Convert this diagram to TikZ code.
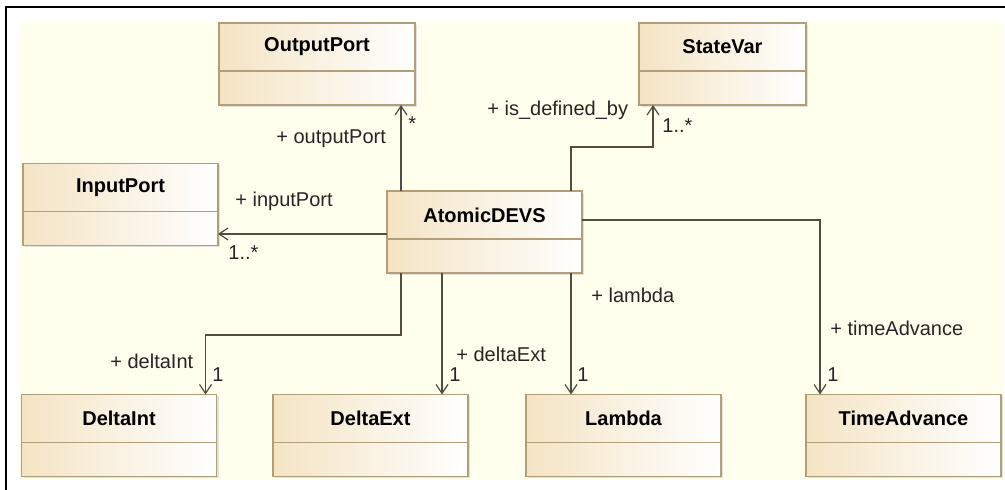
\documentclass[tikz,border=0pt]{standalone}
\usepackage{fontspec}
\setmainfont{Liberation Sans}
\usetikzlibrary{arrows.meta,shadows}

\definecolor{canvas}{RGB}{255,255,238}
\definecolor{classfill}{RGB}{244,228,196}
\definecolor{classline}{RGB}{178,158,120}
\definecolor{assocline}{RGB}{84,76,66}

\begin{document}
\begin{tikzpicture}[x=0.5pt, y=-0.5pt, >={Straight Barb[length=4.5pt,width=6pt]},
    every node/.style={font=\fontsize{10}{12}\selectfont},
    umlclass/.style={draw=classline, line width=0.7pt, left color=classfill, right color=white,
      minimum width=97.5pt, minimum height=41pt, inner sep=0pt, outer sep=0pt,
      drop shadow={shadow xshift=1pt, shadow yshift=-1pt, fill=black!22},
      path picture={\draw[classline, line width=0.7pt]
        ([yshift=-24pt]path picture bounding box.north west) --
        ([yshift=-24pt]path picture bounding box.north east);}},
    classname/.style={anchor=center, yshift=-12pt, font=\fontsize{10}{12}\selectfont\bfseries},
    assoc/.style={draw=assocline, line width=0.6pt, ->},
    role/.style={anchor=base west, inner sep=0pt, text=black!85}]

    % canvas and frame
    \useasboundingbox (0,0) rectangle (1005,490);
    \fill[white] (0,0) rectangle (1005,490);
    \fill[canvas] (20,22) rectangle (1003,480);
    \draw[line width=1.1pt] (6,490) -- (6,7) -- (1005,7);

    % classes
    \node[umlclass, minimum width=98pt, label={[classname]north:OutputPort}] (outport) at (317,64) {};
    \node[umlclass, minimum width=83.5pt, label={[classname]north:StateVar}] (statevar) at (722.5,64) {};
    \node[umlclass, label={[classname]north:InputPort}] (inport) at (120.5,204.5) {};
    \node[umlclass, label={[classname]north:AtomicDEVS}] (atomic) at (484.5,232) {};
    \node[umlclass, label={[classname]north:DeltaInt}] (deltaint) at (119,435.5) {};
    \node[umlclass, label={[classname]north:DeltaExt}] (deltaext) at (370.5,435.5) {};
    \node[umlclass, label={[classname]north:Lambda}] (lambda) at (623.5,435.5) {};
    \node[umlclass, label={[classname]north:TimeAdvance}] (timeadv) at (903.5,435.5) {};

    % associations
    \draw[assoc] ([xshift=7pt]atomic.north west) -- ([xshift=7pt]atomic.north west |- outport.south);
    \draw[assoc] ([xshift=-5.5pt]atomic.north east) -- ++(0pt,22pt) -| ([xshift=7pt]statevar.south west);
    \draw[assoc] ([yshift=-1pt]atomic.west) -- ([yshift=-1pt]atomic.west -| inport.east);
    \draw[assoc] ([xshift=7pt]atomic.south west) -- ++(0pt,-31pt) -| ([xshift=-5.5pt]deltaint.north east);
    \draw[assoc] ([xshift=27.5pt]atomic.south west) -- ([xshift=27.5pt]atomic.south west |- deltaext.north);
    \draw[assoc] ([xshift=-5.5pt]atomic.south east) -- ([xshift=-5.5pt]atomic.south east |- lambda.north);
    \draw[assoc] ([yshift=6pt]atomic.east) -| ([xshift=7pt]timeadv.north west);

    % role names and multiplicities
    \node[role] (r-out) at (276,144) {+ outputPort};
    \node[role] (m-out) at (408,131) {*};
    \node[role] (r-state) at (487,116) {+ is\_defined\_by};
    \node[role] (m-state) at (662,133) {1..*};
    \node[role] (r-in) at (235,207) {+ inputPort};
    \node[role] (m-in) at (228,260) {1..*};
    \node[role] (r-dint) at (110,369) {+ deltaInt};
    \node[role] (m-dint) at (212,382) {1};
    \node[role] (r-dext) at (456,362) {+ deltaExt};
    \node[role] (m-dext) at (449,382) {1};
    \node[role] (r-lam) at (591,303) {+ lambda};
    \node[role] (m-lam) at (577,382) {1};
    \node[role] (r-time) at (830,336) {+ timeAdvance};
    \node[role] (m-time) at (827,382) {1};
\end{tikzpicture}
\end{document}
